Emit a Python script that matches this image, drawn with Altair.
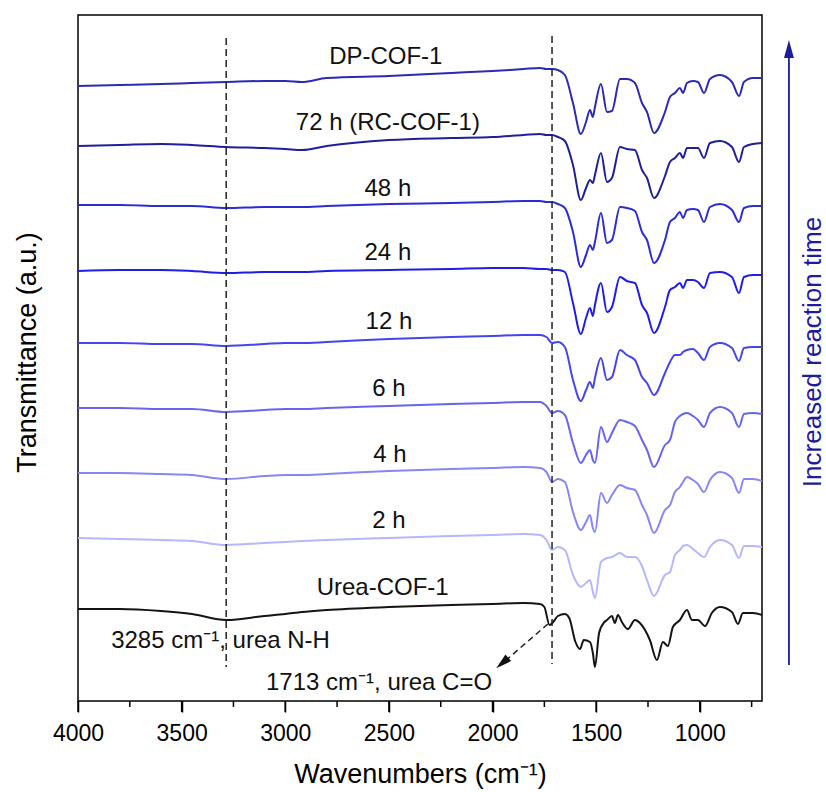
import altair as alt
import pandas as pd

FONT = "Liberation Sans"

# ---- wavenumber grids (cm-1) ----
BASE_WN = [4000, 3800, 3600, 3450, 3285, 3100, 3000, 2920, 2800, 2500, 2200, 2000, 1850, 1771, 1740]
FP_WN = [1713, 1685, 1651, 1612, 1574, 1549, 1530, 1516, 1506, 1477, 1448, 1424, 1385, 1352,
         1313, 1279, 1255, 1221, 1168, 1144, 1120, 1096, 1081, 1062, 1033, 1009, 980, 951,
         903, 845, 811, 787, 744, 700]
UREA_WN = [4000, 3800, 3600, 3450, 3285, 3100, 3000, 2920, 2800, 2500, 2200, 2000, 1850,
           1771, 1750, 1725, 1700, 1685, 1651, 1630, 1600, 1578, 1560, 1530, 1516, 1506, 1486,
           1460, 1448, 1424, 1410, 1395, 1376, 1347, 1313, 1289, 1241, 1207, 1178, 1154, 1130,
           1096, 1062, 1038, 1009, 975, 942, 903, 845, 816, 792, 744, 700]

# ---- stacked transmittance levels (a.u., counted downward from top of frame) ----
DP = [86, 85, 84, 83, 82, 81, 81, 82, 78, 76, 73, 71, 69, 68, 69,
      69, 70, 75, 103, 134, 122, 110, 117, 107, 84, 112, 111, 79, 79, 83, 103, 112, 133, 112, 97,
      93, 88, 93, 83, 81, 82, 93, 79, 75, 82, 96, 82, 78, 78]
H72 = [146, 145, 144, 145, 147, 148, 149, 150, 146, 140, 138, 137, 135, 134, 135,
       135, 137, 141, 165, 200, 188, 180, 183, 175, 153, 182, 178, 147, 149, 150, 170, 178, 198, 176, 162,
       158, 153, 158, 148, 148, 148, 158, 143, 141, 147, 162, 147, 144, 143]
H48 = [205, 205, 206, 206, 208, 207, 207, 207, 206, 204, 203, 202, 201, 201, 202,
       202, 204, 208, 232, 267, 255, 245, 250, 242, 213, 243, 240, 207, 208, 211, 232, 240, 263, 240, 222,
       218, 212, 218, 210, 209, 210, 222, 207, 204, 210, 222, 208, 206, 206]
H24 = [271, 270, 270, 271, 273, 272, 272, 272, 271, 270, 269, 268, 268, 269, 269,
       270, 270, 272, 303, 334, 318, 308, 316, 305, 283, 312, 307, 277, 281, 283, 305, 313, 333, 307, 290,
       287, 283, 288, 280, 280, 282, 288, 273, 272, 277, 293, 277, 275, 275]
H12 = [343, 343, 344, 344, 346, 344, 343, 343, 342, 339, 337, 336, 335, 335, 337,
       343, 342, 347, 380, 401, 390, 382, 388, 378, 358, 380, 377, 350, 355, 360, 377, 383, 395, 373, 362,
       355, 355, 352, 350, 349, 353, 360, 347, 343, 348, 361, 348, 347, 347]
H6 = [408, 408, 409, 409, 412, 410, 409, 409, 408, 406, 404, 403, 402, 402, 406,
      413, 411, 415, 443, 463, 455, 450, 460, 463, 427, 442, 433, 420, 422, 426, 440, 450, 467, 445, 440,
      422, 416, 414, 413, 416, 420, 427, 413, 407, 413, 427, 414, 413, 414]
H4 = [473, 473, 474, 475, 479, 476, 475, 475, 474, 471, 469, 468, 467, 468, 472,
      482, 479, 482, 512, 530, 522, 515, 528, 532, 493, 503, 495, 485, 488, 490, 505, 515, 533, 510, 505,
      492, 487, 482, 477, 480, 484, 492, 480, 472, 478, 493, 479, 479, 481]
H2 = [538, 539, 540, 541, 545, 543, 542, 541, 540, 538, 536, 535, 534, 535, 540,
      550, 547, 550, 575, 587, 583, 580, 592, 598, 562, 558, 557, 553, 557, 557, 566, 580, 596, 575, 572,
      555, 550, 546, 545, 549, 553, 557, 547, 540, 545, 558, 546, 546, 547]
UREA = [609, 609, 611, 614, 620, 616, 614, 612, 610, 607, 605, 604, 603,
        604, 607, 625, 620, 616, 614, 618, 642, 649, 640, 642, 653, 667, 633, 622, 620, 616, 623,
        615, 622, 629, 620, 623, 640, 660, 642, 646, 627, 620, 610, 620, 620, 626, 613, 607, 612,
        624, 613, 613, 615]

SERIES = ["DP-COF-1", "72 h (RC-COF-1)", "48 h", "24 h", "12 h", "6 h", "4 h", "2 h", "Urea-COF-1"]
COLORS = ["#2a2ab4", "#1f1f9c", "#2c2cd6", "#1e1ee6", "#4545ee", "#6565f0", "#8686f8", "#b6b6fc", "#141414"]
LABEL_WN = [2515, 2505, 2505, 2505, 2500, 2500, 2495, 2500, 2530]
LABEL_LEVEL = [57, 123, 189, 253, 322, 389, 455, 521, 588]

X_TICKS = [4000, 3500, 3000, 2500, 2000, 1500, 1000]
X_MINOR = [3750, 3250, 2750, 2250, 1750, 1250, 750]

# ---- build tables ----
rows = []
grid = BASE_WN + FP_WN
for name, vals in zip(SERIES[:-1], [DP, H72, H48, H24, H12, H6, H4, H2]):
    for w, v in zip(grid, vals):
        rows.append({"series": name, "wn": w, "level": v})
for w, v in zip(UREA_WN, UREA):
    rows.append({"series": SERIES[-1], "wn": w, "level": v})
spectra = pd.DataFrame(rows)

labels = pd.DataFrame({"text": SERIES, "wn": LABEL_WN, "level": LABEL_LEVEL})

xs = alt.Scale(domain=[4000, 700], nice=False, zero=False)
ys = alt.Scale(domain=[701, 15], nice=False, zero=False)

x_axis = alt.Axis(values=X_TICKS, format="d", title="Wavenumbers (cm\u207b\u00b9)", domain=False, grid=False,
                  tickSize=11, tickWidth=1.5, tickColor="black", labelFontSize=23, labelFont=FONT,
                  labelColor="black", labelPadding=10, labelFlush=False, labelOverlap=False,
                  titleFontSize=27, titleFont=FONT, titleFontWeight="normal", titleColor="black",
                  titleX=342, titleY=81, titleBaseline="alphabetic", titleAlign="center")
y_axis = alt.Axis(title="Transmittance (a.u.)", labels=False, ticks=False, domain=False, grid=False,
                  titleFontSize=27, titleFont=FONT, titleFontWeight="normal", titleColor="black",
                  titleX=-51, titleY=337, titleAngle=270, titleBaseline="middle", titleAlign="center")

X = alt.X("wn:Q", scale=xs, axis=x_axis)
Y = alt.Y("level:Q", scale=ys, axis=y_axis)

lines = alt.Chart(spectra).mark_line(strokeWidth=2, interpolate="monotone").encode(
    x=X, y=Y,
    color=alt.Color("series:N", scale=alt.Scale(domain=SERIES, range=COLORS), legend=None),
)

label_marks = alt.Chart(labels).mark_text(font=FONT, fontSize=24, color="#111", align="center",
                                          baseline="middle").encode(x=X, y=Y, text="text:N")

# dashed marker lines at the urea bands
DASH_WN = [3285, 1713]
DASH_TOP = [38, 36]
DASH_BOTTOM = [667, 664]
dash_df = pd.DataFrame({"wn": DASH_WN, "level": DASH_TOP, "level2": DASH_BOTTOM})
dashes = alt.Chart(dash_df).mark_rule(strokeDash=[7, 4], strokeWidth=1.5, color="#222").encode(
    x=X, y=Y, y2="level2:Q")

# band annotations
ann_df = pd.DataFrame({
    "text": ["3285 cm\u207b\u00b9, urea N-H", "1713 cm\u207b\u00b9, urea C=O"],
    "wn": [3840, 3093],
    "level": [641, 683],
})
ann = alt.Chart(ann_df).mark_text(font=FONT, fontSize=24, color="#111", align="left",
                                  baseline="middle").encode(x=X, y=Y, text="text:N")

# dashed pointer from the 1713 band to its label
ptr_df = pd.DataFrame({"wn": [1733], "wn2": [1945], "level": [624], "level2": [662]})
ptr = alt.Chart(ptr_df).mark_rule(strokeDash=[6, 4], strokeWidth=1.5, color="#222").encode(
    x=X, x2="wn2:Q", y=Y, y2="level2:Q")
ARROW_PATH = "M0,-1L0.55,1L-0.55,1Z"
ptr_head = alt.Chart(pd.DataFrame({"wn": [1953], "level": [663]})).mark_point(
    shape=ARROW_PATH, size=256, filled=True, color="#111", opacity=1, angle=229).encode(x=X, y=Y)

# "Increased reaction time" arrow at the right
NAVY = "#1c1c9c"
time_df = pd.DataFrame({"wn": [570], "level": [665], "level2": [52]})
time_line = alt.Chart(time_df).mark_rule(strokeWidth=1.8, color=NAVY).encode(x=X, y=Y, y2="level2:Q")
time_head = alt.Chart(pd.DataFrame({"wn": [570], "level": [49]})).mark_point(
    shape=ARROW_PATH, size=324, filled=True, color=NAVY, opacity=1).encode(x=X, y=Y)
time_text = alt.Chart(pd.DataFrame({"text": ["Increased reaction time"], "wn": [452], "level": [352]})).mark_text(
    font=FONT, fontSize=26, color=NAVY, angle=270, align="center", baseline="middle").encode(
    x=X, y=Y, text="text:N")

# major and minor ticks on the x axis (outward)
tick_df = pd.DataFrame({
    "wn": X_TICKS + X_MINOR,
    "level": [701] * (len(X_TICKS) + len(X_MINOR)),
    "level2": [712] * len(X_TICKS) + [707] * len(X_MINOR),
})
ticks = alt.Chart(tick_df).mark_rule(strokeWidth=1.5, color="black").encode(x=X, y=Y, y2="level2:Q")

chart = alt.layer(lines, dashes, label_marks, ann, ptr, ptr_head, time_line, time_head, time_text, ticks).properties(
    width=684, height=686,
    autosize=alt.AutoSizeParams(type="none"),
    padding={"left": 78, "top": 15, "right": 64, "bottom": 91},
    background="white",
).configure_view(stroke="black", strokeWidth=1.5)

chart.save("out.html", embed_options={"renderer": "svg", "actions": False})
